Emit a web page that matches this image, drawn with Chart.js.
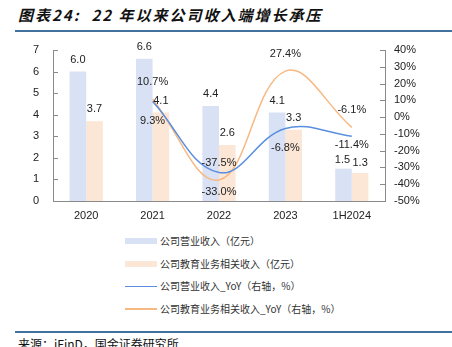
<!DOCTYPE html>
<html><head><meta charset="utf-8">
<script src="https://cdn.jsdelivr.net/npm/chart.js@4/dist/chart.umd.min.js"></script>
<style>
html,body{margin:0;padding:0;background:#fff;}
#wrap{position:relative;width:452px;height:347px;overflow:hidden;background:#fff;}
#title{position:absolute;left:18px;top:4px;font-family:"Noto Sans CJK SC",sans-serif;font-weight:bold;font-style:italic;font-size:15px;letter-spacing:2px;color:#111;white-space:nowrap;}
#tline{position:absolute;left:15px;top:30px;width:437px;height:2px;background:#41719C;}
#bline{position:absolute;left:15px;top:331px;width:437px;height:2px;background:#41719C;}
#src{position:absolute;left:18px;top:335px;font-family:"Noto Sans CJK SC",sans-serif;font-size:12px;color:#111;white-space:nowrap;}
#c{position:absolute;left:0;top:0;}
#legend{position:absolute;left:125px;top:234px;font-family:"Noto Sans CJK SC",sans-serif;font-size:10px;color:#333;}
.li{position:relative;height:22.5px;white-space:nowrap;}
.sw{position:absolute;left:0;width:32px;}
.lt{position:absolute;left:35px;top:0;line-height:14px;}
</style></head>
<body><div id="wrap">
<div id="title">图表24:&nbsp; 22 年以来公司收入端增长承压</div>
<div id="tline"></div>
<canvas id="c" width="452" height="230"></canvas>
<div id="legend"></div>
<div id="bline"></div>
<div id="src">来源：iFinD，国金证券研究所</div>
</div>
<script>
const categories = ['2020','2021','2022','2023','1H2024'];
const revenue = [6.0, 6.6, 4.4, 4.1, 1.5];
const eduRevenue = [3.7, 4.1, 2.6, 3.3, 1.3];
const revenueYoY = [null, 9.3, -33.0, -6.8, -11.4];
const eduRevenueYoY = [null, 10.7, -37.5, 27.4, -6.1];
const seriesNames = ['公司营业收入（亿元）','公司教育业务相关收入（亿元）','公司营业收入_YoY（右轴，%）','公司教育业务相关收入_YoY（右轴，%）'];

const C_BAR1='#D9E1F4', C_BAR2='#FCE6D5', C_L1='#5A8EE0', C_L2='#F7B982';
const AX='#8a8a8a';
const FONT="'Liberation Sans', Arial, sans-serif";

// label placement (style, not data): [dx, dy] per dataset per point
const labelOffsets = [
  [[0,-12],[0,-12],[0,-12],[0,-12],[-1,-9]],
  [[0,-12],[0,-12],[0,-12],[0,-12],[0,-10]],
  [[0,19],[0,19],[0,19],[0,19],[0,9]],
  [[0,-17],[0,-17],[0,-17],[0,-17],[0,-17]]
];

const labelPlugin = {
  id:'labels',
  afterDatasetsDraw(chart){
    const ctx=chart.ctx;
    ctx.save();
    ctx.font='11px '+FONT;
    ctx.fillStyle='#222';
    ctx.textAlign='center';
    ctx.textBaseline='middle';
    chart.data.datasets.forEach((ds,i)=>{
      const meta=chart.getDatasetMeta(i);
      meta.data.forEach((el,j)=>{
        const v=ds.data[j];
        if(v===null||v===undefined) return;
        const o=labelOffsets[i][j];
        const txt = ds.type==='bar' ? v.toFixed(1) : v.toFixed(1)+'%';
        ctx.fillText(txt, el.x+o[0], el.y+o[1]);
      });
    });
    ctx.restore();
  },
  afterDraw(chart){
    const ctx=chart.ctx, a=chart.chartArea;
    ctx.save();
    ctx.strokeStyle=AX; ctx.lineWidth=1;
    const y=chart.scales.y, y1=chart.scales.y1;
    y.ticks.forEach(t=>{const p=Math.round(y.getPixelForValue(t.value))+0.5;ctx.beginPath();ctx.moveTo(a.left,p);ctx.lineTo(a.left+5,p);ctx.stroke();});
    y1.ticks.forEach(t=>{const p=Math.round(y1.getPixelForValue(t.value))+0.5;ctx.beginPath();ctx.moveTo(a.right-5,p);ctx.lineTo(a.right,p);ctx.stroke();});
    ctx.restore();
  }
};

const chart = new Chart(document.getElementById('c'), {
  data:{
    labels:categories,
    datasets:[
      {type:'bar',label:seriesNames[0],data:revenue,backgroundColor:C_BAR1,yAxisID:'y',order:2,categoryPercentage:0.5,barPercentage:1.0},
      {type:'bar',label:seriesNames[1],data:eduRevenue,backgroundColor:C_BAR2,yAxisID:'y',order:2,categoryPercentage:0.5,barPercentage:1.0},
      {type:'line',label:seriesNames[2],data:revenueYoY,borderColor:C_L1,borderWidth:1.5,pointRadius:0,tension:0.4,yAxisID:'y1',order:1,fill:false},
      {type:'line',label:seriesNames[3],data:eduRevenueYoY,borderColor:C_L2,borderWidth:1.5,pointRadius:0,tension:0.4,yAxisID:'y1',order:1,fill:false}
    ]
  },
  options:{
    responsive:false, animation:false,
    layout:{padding:{left:0,right:0,top:50,bottom:0}},
    plugins:{legend:{display:false},tooltip:{enabled:false}},
    scales:{
      x:{
        grid:{display:false,drawTicks:false},
        border:{display:true,color:AX,width:1},
        ticks:{font:{family:FONT,size:11},color:'#222',padding:8},
        afterFit(s){s.height=29;}
      },
      y:{
        position:'left',min:0,max:7,
        grid:{display:false,drawTicks:false},
        border:{display:true,color:AX,width:1},
        ticks:{stepSize:1,font:{family:FONT,size:11},color:'#222',padding:14},
        afterFit(s){s.width=53;}
      },
      y1:{
        position:'right',min:-50,max:40,
        grid:{display:false,drawTicks:false},
        border:{display:true,color:AX,width:1},
        ticks:{stepSize:10,font:{family:FONT,size:11},color:'#222',padding:9,callback:v=>v+'%'},
        afterFit(s){s.width=67;}
      }
    }
  },
  plugins:[labelPlugin]
});

// HTML legend from datasets
const lg=document.getElementById('legend');
chart.data.datasets.forEach(ds=>{
  const li=document.createElement('div'); li.className='li';
  const sw=document.createElement('div'); sw.className='sw';
  if(ds.type==='bar'){sw.style.top='4px';sw.style.height='6px';sw.style.background=ds.backgroundColor;}
  else {sw.style.top='6.5px';sw.style.height='1.5px';sw.style.background=ds.borderColor;}
  const t=document.createElement('div'); t.className='lt'; t.textContent=ds.label;
  li.appendChild(sw); li.appendChild(t); lg.appendChild(li);
});
</script>
</body></html>
